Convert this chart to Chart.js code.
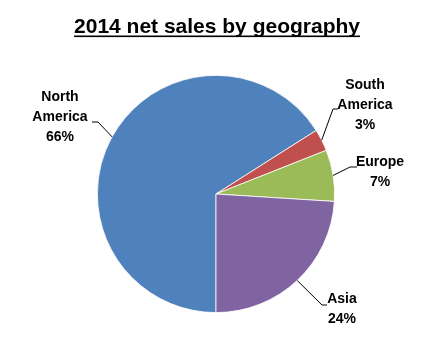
<!DOCTYPE html>
<html>
<head>
<meta charset="utf-8">
<script src="https://cdn.jsdelivr.net/npm/chart.js@4/dist/chart.umd.min.js"></script>
<style>
    html, body { margin: 0; padding: 0; background: #fff; }
    #wrap { width: 429px; height: 359px; position: relative; }
</style>
</head>
<body>
<div id="wrap"><canvas id="chart" width="429" height="359"></canvas></div>
<script>
// chart data
const regions = ['North America', 'South America', 'Europe', 'Asia'];
const shares = [66, 3, 7, 24];
const sliceColors = ['#4F81BD', '#C0504D', '#9BBB59', '#8064A2'];
const chartTitle = '2014 net sales by geography';

// label layout: elbow of leader line and text lines, relative to pie centre
const labelLayout = [
    { elbow: [-118, -72], end: [-124, -72], text: [-156, -97], lines: ['North', 'America'] },
    { elbow: [117, -85], end: [122, -85], text: [149, -109], lines: ['South', 'America'] },
    { elbow: [134, -27], end: [141, -27], text: [164, -32], lines: ['Europe'] },
    { elbow: [106, 111], end: [111, 111], text: [126, 105], lines: ['Asia'] }
];

const labelFont = 'bold 14px "Liberation Sans", Arial, sans-serif';
const lineGap = 20;

const titlePlugin = {
    id: 'underlinedTitle',
    afterDraw(chart) {
        const ctx = chart.ctx;
        ctx.save();
        ctx.font = 'bold 21px "Liberation Sans", Arial, sans-serif';
        ctx.fillStyle = '#000';
        ctx.textAlign = 'center';
        ctx.textBaseline = 'alphabetic';
        const cx = 217;
        ctx.fillText(chartTitle, cx, 33);
        const w = ctx.measureText(chartTitle).width;
        ctx.fillRect(cx - w / 2, 35.5, w, 1.6);
        ctx.restore();
    }
};

const labelPlugin = {
    id: 'leaderLabels',
    afterDatasetsDraw(chart) {
        const ctx = chart.ctx;
        const meta = chart.getDatasetMeta(0);
        ctx.save();
        meta.data.forEach((arc, i) => {
            const lay = labelLayout[i];
            const mid = (arc.startAngle + arc.endAngle) / 2;
            const ex = arc.x + Math.cos(mid) * arc.outerRadius;
            const ey = arc.y + Math.sin(mid) * arc.outerRadius;
            ctx.strokeStyle = '#000';
            ctx.lineWidth = 1;
            ctx.beginPath();
            ctx.moveTo(ex, ey);
            ctx.lineTo(arc.x + lay.elbow[0], arc.y + lay.elbow[1]);
            ctx.lineTo(arc.x + lay.end[0], arc.y + lay.end[1]);
            ctx.stroke();

            ctx.font = labelFont;
            ctx.fillStyle = '#000';
            ctx.textAlign = 'center';
            ctx.textBaseline = 'middle';
            const lines = lay.lines.concat([shares[i] + '%']);
            lines.forEach((t, k) => {
                ctx.fillText(t, arc.x + lay.text[0], arc.y + lay.text[1] + k * lineGap);
            });
        });
        ctx.restore();
    }
};

new Chart(document.getElementById('chart'), {
    type: 'pie',
    data: {
        labels: regions,
        datasets: [{
            data: shares,
            backgroundColor: sliceColors,
            borderColor: '#ffffff',
            borderWidth: 0.8
        }]
    },
    options: {
        responsive: false,
        animation: false,
        rotation: 180,
        layout: { padding: { top: 75, bottom: 46, left: 20, right: 17 } },
        plugins: {
            legend: { display: false },
            title: { display: false },
            tooltip: { enabled: false }
        }
    },
    plugins: [titlePlugin, labelPlugin]
});
</script>
</body>
</html>
